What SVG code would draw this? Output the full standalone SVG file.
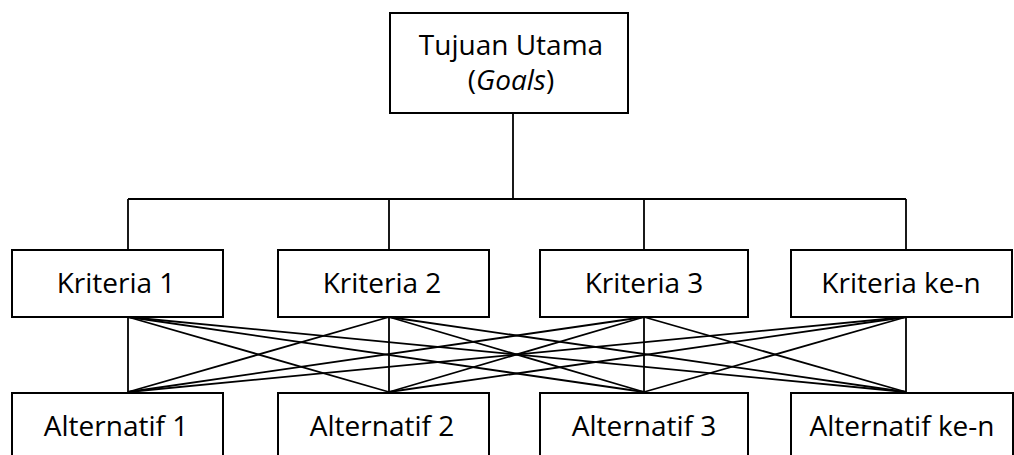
<svg xmlns="http://www.w3.org/2000/svg" width="1014" height="455" viewBox="0 0 1014 455">
<style>
.box{fill:#fff;stroke:#000;stroke-width:2}
.t{font-family:"Open Sans","Liberation Sans",sans-serif;font-size:28px;fill:#000;text-anchor:middle}
.c line{stroke:#000;stroke-width:1.8}
</style>
<rect width="1014" height="455" fill="#fff"/>
<g class="c" id="connectors">
<line x1="513" y1="113" x2="513" y2="199"/>
<line x1="128" y1="199" x2="906" y2="199"/>
<line x1="128" y1="199" x2="128" y2="250"/>
<line x1="389" y1="199" x2="389" y2="250"/>
<line x1="644" y1="199" x2="644" y2="250"/>
<line x1="906" y1="199" x2="906" y2="250"/>
<line x1="128" y1="317" x2="128" y2="392"/>
<line x1="128" y1="317" x2="389" y2="392"/>
<line x1="128" y1="317" x2="644" y2="392"/>
<line x1="128" y1="317" x2="906" y2="392"/>
<line x1="389" y1="317" x2="128" y2="392"/>
<line x1="389" y1="317" x2="389" y2="392"/>
<line x1="389" y1="317" x2="644" y2="392"/>
<line x1="389" y1="317" x2="906" y2="392"/>
<line x1="644" y1="317" x2="128" y2="392"/>
<line x1="644" y1="317" x2="389" y2="392"/>
<line x1="644" y1="317" x2="644" y2="392"/>
<line x1="644" y1="317" x2="906" y2="392"/>
<line x1="906" y1="317" x2="128" y2="392"/>
<line x1="906" y1="317" x2="389" y2="392"/>
<line x1="906" y1="317" x2="644" y2="392"/>
<line x1="906" y1="317" x2="906" y2="392"/>
</g>
<g id="goal"><rect class="box" x="390" y="13" width="238" height="100"/><text class="t" x="511" y="55">Tujuan Utama</text><text class="t" x="511" y="90">(<tspan font-style="italic">Goals</tspan>)</text></g>
<g id="k1"><rect class="box" x="12" y="250" width="211" height="67"/><text class="t" x="116" y="293">Kriteria 1</text></g>
<g id="k2"><rect class="box" x="278" y="250" width="211" height="67"/><text class="t" x="382" y="293">Kriteria 2</text></g>
<g id="k3"><rect class="box" x="540" y="250" width="208" height="67"/><text class="t" x="644" y="293">Kriteria 3</text></g>
<g id="kn"><rect class="box" x="791" y="250" width="221" height="67"/><text class="t" x="901" y="293">Kriteria ke-n</text></g>
<g id="a1"><rect class="box" x="12" y="393" width="211" height="70"/><text class="t" x="116" y="436">Alternatif 1</text></g>
<g id="a2"><rect class="box" x="278" y="393" width="211" height="70"/><text class="t" x="382" y="436">Alternatif 2</text></g>
<g id="a3"><rect class="box" x="540" y="393" width="208" height="70"/><text class="t" x="644" y="436">Alternatif 3</text></g>
<g id="an"><rect class="box" x="791" y="393" width="222" height="70"/><text class="t" x="902" y="436">Alternatif ke-n</text></g>
</svg>
